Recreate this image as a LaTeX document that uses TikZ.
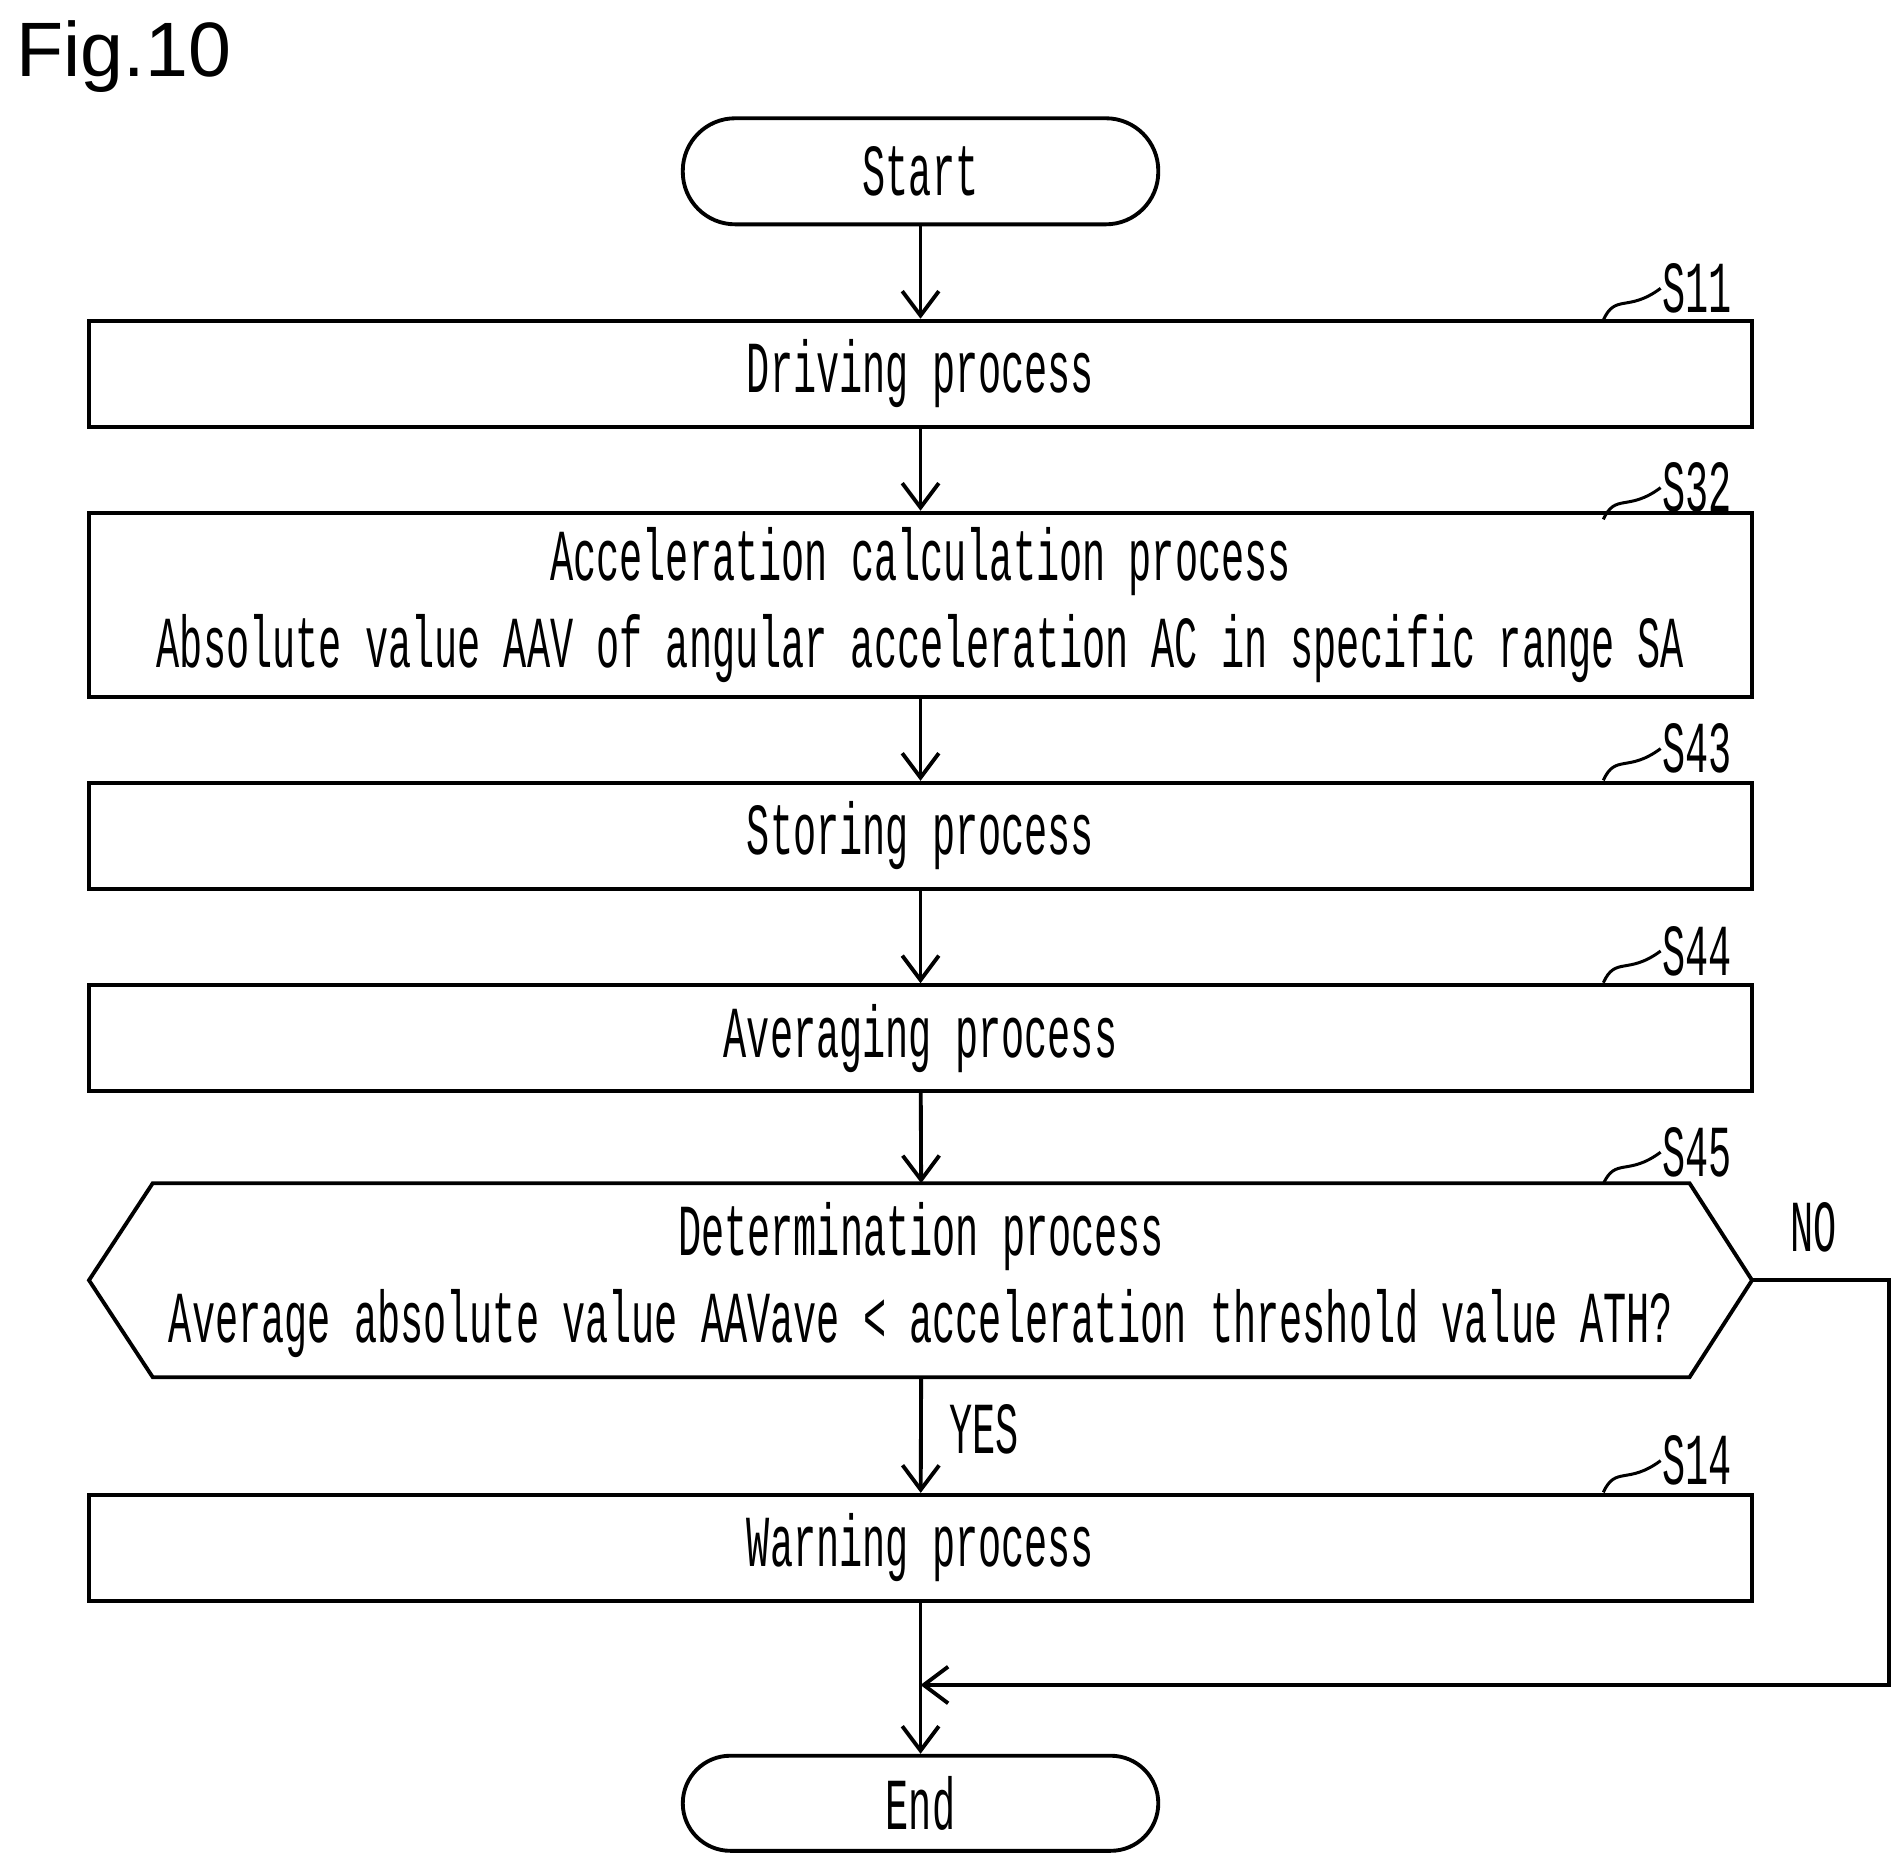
\documentclass[tikz,border=0pt]{standalone}
\usepackage{fontspec}
\setmainfont{Liberation Sans}
\setmonofont{Liberation Mono}
\usetikzlibrary{arrows.meta}
\newcommand{\tx}[1]{\scalebox{1}[1.9]{\ttfamily #1}}
\begin{document}
\begin{tikzpicture}[>={Straight Barb[length=2mm,width=3mm]},line width=0.9pt,
  font=\fontsize{9}{11}\selectfont,
  term node/.style={draw,rounded rectangle/.style={},rounded corners=0.43cm,minimum width=3.9cm,minimum height=0.87cm},
  step node/.style={draw,minimum width=13.64cm,minimum height=0.87cm},
  step label/.style={anchor=west,inner sep=0pt}]
  \useasboundingbox (0,0) rectangle (15.6,-15.3);

  \node[anchor=north west,inner sep=0pt,font=\fontsize{18}{20}\selectfont] (fig) at (0.12,-0.15) {Fig.10};

  \node[term node] (start) at (7.55,-1.405) {\tx{Start}};
  \node[step node] (s11) at (7.55,-3.065) {\tx{Driving process}};
  \node[step node,minimum height=1.36cm,align=center] (s32) at (7.55,-4.96)
    {\tx{Acceleration calculation process}\\[0.12cm]\tx{Absolute value AAV of angular acceleration AC in specific range SA}};
  \node[step node] (s43) at (7.55,-6.855) {\tx{Storing process}};
  \node[step node] (s44) at (7.55,-8.515) {\tx{Averaging process}};
  \node[minimum width=12.25cm,minimum height=1.56cm,align=center] (s45) at (7.555,-10.5)
    {\tx{Determination process}\\[0.12cm]\tx{Average absolute value AAVave < acceleration threshold value ATH?}};
  \node[step node] (s14) at (7.55,-12.695) {\tx{Warning process}};
  \node[term node,minimum height=0.78cm,rounded corners=0.39cm] (end) at (7.55,-14.79) {\tx{End}};

  % decision outline
  \coordinate (decL) at (0.73,-10.5);
  \coordinate (decR) at (14.37,-10.5);
  \draw (s45.north west) -- (s45.north east) -- (decR) -- (s45.south east)
    -- (s45.south west) -- (decL) -- cycle;

  % step labels
  \foreach \n/\t/\y in {s11/S11/2.365, s32/S32/4.0, s43/S43/6.14, s44/S44/7.8, s45/S45/9.45, s14/S14/11.98} {
    \node[step label] (l\n) at (13.62,-\y) {\tx{\t}};
    \draw[line width=0.7pt] (13.15,-\y-0.26) .. controls (13.25,-\y-0.04) and (13.35,-\y-0.2) .. (l\n.west);
  }

  % flow
  \draw[->] (start) -- (s11);
  \draw[->] (s11) -- (s32);
  \draw[->] (s32) -- (s43);
  \draw[->] (s43) -- (s44);
  \draw[->] (s44) -- (s45.north);
  \draw[->] (s45.south) -- node[right,xshift=0.1cm,yshift=0.05cm] (yes) {\tx{YES}} (s14);
  \coordinate (join) at (7.55,-13.82);
  \draw[->] (s14) -- (end);
  \draw[->] (decR) -- node[above,pos=0.45,yshift=0.1cm] (no) {\tx{NO}} (15.49,-10.5) |- (join);
\end{tikzpicture}
\end{document}
